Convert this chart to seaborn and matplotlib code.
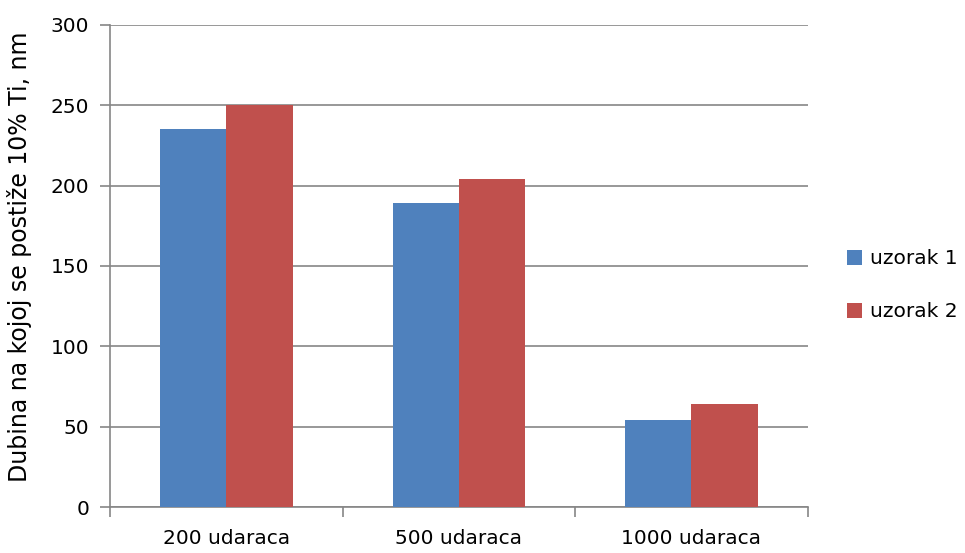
import matplotlib
matplotlib.use("Agg")
import matplotlib.pyplot as plt
import pandas as pd
import seaborn as sns

categories = ["200 udaraca", "500 udaraca", "1000 udaraca"]
uzorak1 = [235, 189, 54]
uzorak2 = [250, 204, 64]
series = ["uzorak 1", "uzorak 2"]
colors = ["#4F81BD", "#C0504D"]

df = pd.DataFrame({
    "cat": categories * 2,
    "val": uzorak1 + uzorak2,
    "ser": [series[0]] * 3 + [series[1]] * 3,
})

sns.set_theme(style="white")
plt.rcParams["font.family"] = ["DejaVu Sans"]
plt.rcParams["text.color"] = "black"
plt.rcParams["xtick.color"] = "black"
plt.rcParams["ytick.color"] = "black"
plt.rcParams["axes.labelcolor"] = "black"

fig = plt.figure(figsize=(9.65, 5.53), dpi=100)
ax = fig.add_axes([0.114, 0.083, 0.723, 0.872])
sns.barplot(data=df, x="cat", y="val", hue="ser", palette=colors,
            width=0.57, gap=0, saturation=1, linewidth=0, ax=ax, zorder=3)

ax.set_ylim(0, 300)
ax.set_xlim(-0.5, 2.5)
ax.set_yticks(range(0, 301, 50))
ax.yaxis.grid(True, color="#868686", linewidth=1.2, zorder=0)
ax.set_axisbelow(True)
for s in ["top", "right"]:
    ax.spines[s].set_visible(False)
for s in ["left", "bottom"]:
    ax.spines[s].set_color("#868686")
    ax.spines[s].set_linewidth(1.2)

ax.tick_params(axis="y", which="major", left=True, direction="out", length=7,
               color="#868686", width=1.2, labelsize=14.5, pad=8)
ax.tick_params(axis="x", which="major", bottom=False, length=0,
               labelsize=14.5, pad=16)
ax.set_xticks([-0.5, 0.5, 1.5, 2.5], minor=True)
ax.tick_params(axis="x", which="minor", bottom=True, direction="out",
               length=7, color="#868686", width=1.2)
ax.set_xlabel("")
ax.set_ylabel("Dubina na kojoj se postiže 10% Ti, nm", fontsize=17)
ax.yaxis.set_label_coords(-0.112, 0.52)

ax.legend(loc="center left", bbox_to_anchor=(1.045, 0.46), frameon=False,
          fontsize=14.5, handlelength=0.75, handleheight=0.75,
          handletextpad=0.4, labelspacing=1.7, borderaxespad=0)

fig.savefig("out.png", dpi=100)
